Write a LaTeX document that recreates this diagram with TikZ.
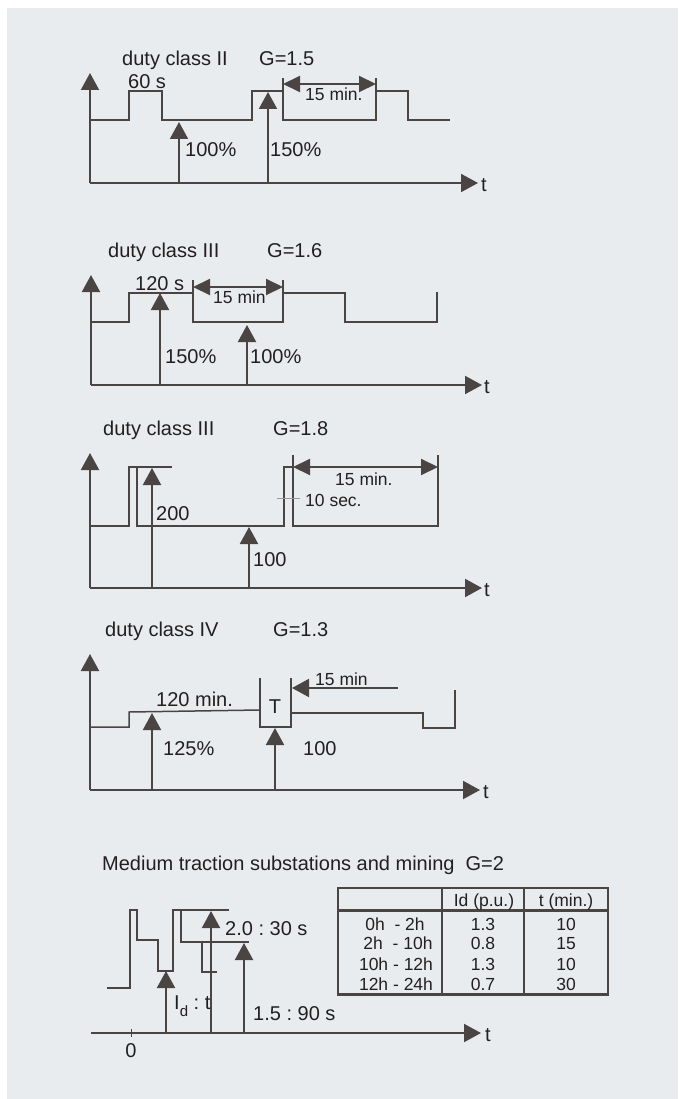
\documentclass[tikz,border=0pt]{standalone}
\usepackage{fontspec}
\setmainfont{Liberation Sans}
\usetikzlibrary{arrows.meta}
\frenchspacing
\definecolor{bg}{HTML}{E8ECEF}
\definecolor{ln}{HTML}{4A4443}
\definecolor{tx}{HTML}{231F20}
\definecolor{tk}{HTML}{9A9A9A}
\tikzset{
  wave/.style={draw=ln, line width=1.5pt, line join=miter},
  axis/.style={draw=ln, line width=2pt, -{Triangle[width=18pt,length=17pt]}},
  uparr/.style={draw=ln, line width=2pt, -{Triangle[width=18pt,length=17pt]}},
  dbl/.style={draw=ln, line width=2pt, {Triangle[width=16pt,length=17pt]}-{Triangle[width=16pt,length=17pt]}},
  lbl/.style={anchor=base west, inner sep=0pt, text=tx, font=\fontsize{20}{24}\selectfont},
  slbl/.style={anchor=base west, inner sep=0pt, text=tx, font=\fontsize{17.5}{20}\selectfont},
  tlbl/.style={anchor=base, inner sep=0pt, text=tx, font=\fontsize{17.5}{20}\selectfont},
  tbl/.style={draw=ln, line width=2pt},
}
\begin{document}
\begin{tikzpicture}[x=1pt,y=-1pt]
\useasboundingbox (0,0) rectangle (678,1099);
\fill[white] (0,0) rectangle (678,1099);
\fill[bg] (7,8) rectangle (678,1099);

% ---------------- Panel 1 ----------------
\node[lbl] (t1) at (122,66) {duty class II};
\node[lbl] (g1) at (259,66) {G=1.5};
\coordinate (o1) at (90,183);
\draw[axis] (o1) -- (90,73);
\draw[axis] (o1) -- (478,183);
\node[lbl] (x1) at (481,192) {t};
\draw[wave] (90,120) -- (129,120) -- (129,91) -- (162,91) -- (162,120) -- (252,120) -- (252,91) -- (283,91) -- (283,120) -- (376,120) -- (376,91) -- (408,91) -- (408,120) -- (450,120);
\draw[wave] (283,78) -- (283,91);
\draw[wave] (376,78) -- (376,91);
\draw[dbl] (283,84) -- (376,84);
\node[lbl] (d1) at (128,89) {60 s};
\node[slbl] (m1) at (305,101) {15 min.};
\draw[uparr] (179,183) -- (179,122);
\draw[uparr] (268,183) -- (268,92);
\node[lbl] (p1a) at (185,157) {100\%};
\node[lbl] (p1b) at (270,157) {150\%};

% ---------------- Panel 2 ----------------
\node[lbl] (t2) at (108,257) {duty class III};
\node[lbl] (g2) at (267,257) {G=1.6};
\coordinate (o2) at (91,385);
\draw[axis] (o2) -- (91,275);
\draw[axis] (o2) -- (482,385);
\node[lbl] (x2) at (484,393) {t};
\draw[wave] (91,322) -- (129,322) -- (129,293) -- (193,293) -- (193,322) -- (283,322) -- (283,293) -- (345,293) -- (345,322) -- (437,322) -- (437,292);
\draw[wave] (193,280) -- (193,293);
\draw[wave] (283,280) -- (283,293);
\draw[dbl] (193,287) -- (283,287);
\node[lbl] (d2) at (135,290) {120 s};
\node[slbl] (m2) at (213,303) {15 min};
\draw[uparr] (160,385) -- (160,293);
\draw[uparr] (247,385) -- (247,325);
\node[lbl] (p2a) at (165,363) {150\%};
\node[lbl] (p2b) at (250,363) {100\%};

% ---------------- Panel 3 ----------------
\node[lbl] (t3) at (103,435) {duty class III};
\node[lbl] (g3) at (273,435) {G=1.8};
\coordinate (o3) at (90,588);
\draw[axis] (o3) -- (90,453);
\draw[axis] (o3) -- (482,588);
\node[lbl] (x3) at (484,596) {t};
\draw[wave] (90,526) -- (129,526) -- (129,467) -- (172,467);
\draw[wave] (137,467) -- (137,526) -- (284,526) -- (284,467) -- (293,467);
\draw[wave] (293,455) -- (293,526) -- (438,526) -- (438,455);
\draw[dbl] (293,467) -- (438,467);
\node[slbl] (m3) at (335,485) {15 min.};
\draw[tk, line width=1pt] (277,498) -- (300,498);
\node[slbl] (s3) at (305,506) {10 sec.};
\draw[uparr] (152,588) -- (152,468);
\draw[uparr] (249,588) -- (249,527);
\node[lbl] (p3a) at (156,520) {200};
\node[lbl] (p3b) at (253,566) {100};

% ---------------- Panel 4 ----------------
\node[lbl] (t4) at (105,636) {duty class IV};
\node[lbl] (g4) at (273,636) {G=1.3};
\coordinate (o4) at (90,790);
\draw[axis] (o4) -- (90,654);
\draw[axis] (o4) -- (480,790);
\node[lbl] (x4) at (483,798) {t};
\draw[wave] (90,727) -- (129,727) -- (129,712) -- (260,710);
\draw[wave] (260,678) -- (260,727) -- (291,727) -- (291,678);
\draw[wave] (291,713) -- (423,713) -- (423,728) -- (455,728) -- (455,690);
\node[inner sep=0pt, text=tx, font=\fontsize{20}{24}\selectfont] (T4) at (275,707) {T};
\node[lbl] (d4) at (156,706) {120 min.};
\coordinate (f4) at (398,688);
\draw[draw=ln, line width=2pt, -{Triangle[width=18pt,length=17pt]}] (f4) -- (292,688);
\node[slbl] (m4) at (315,685) {15 min};
\draw[uparr] (152,790) -- (152,713);
\draw[uparr] (275,790) -- (275,728);
\node[lbl] (p4a) at (163,755) {125\%};
\node[lbl] (p4b) at (303,755) {100};

% ---------------- Panel 5 ----------------
\node[lbl] (t5) at (102,870) {Medium traction substations and mining\ \ G=2};
\coordinate (o5) at (91,1033);
\draw[axis] (o5) -- (481,1033);
\node[lbl] (x5) at (485,1041) {t};
\draw[ln, line width=1pt] (131,1029) -- (131,1037);
\node[anchor=base, inner sep=0pt, text=tx, font=\fontsize{20}{24}\selectfont] (z5) at (131,1057) {0};
\draw[wave] (107,988) -- (130,988) -- (130,910) -- (137,910) -- (137,940) -- (158,940) -- (158,971) -- (173,971) -- (173,910) -- (229,910);
\draw[wave] (181,910) -- (181,942) -- (249,942);
\draw[wave] (202,942) -- (202,972) -- (217,972);
\draw[uparr] (166,1033) -- (166,971);
\draw[uparr] (211,1033) -- (211,911);
\draw[uparr] (244,1033) -- (244,943);
\node[lbl] (l5a) at (174,1009) {I\raisebox{-0.35em}{\fontsize{15}{15}\selectfont d} : t};
\node[lbl] (l5b) at (225,935) {2.0 : 30 s};
\node[lbl] (l5c) at (253,1020) {1.5 : 90 s};

% table
\draw[tbl] (338,888) rectangle (608,995);
\draw[draw=ln, line width=3pt] (338,910) -- (608,910);
\draw[draw=ln, line width=3pt] (338,994) -- (608,994);
\draw[tbl] (442,888) -- (442,995);
\draw[tbl] (524,888) -- (524,995);
\node[tlbl] (h1) at (484,906) {Id (p.u.)};
\node[tlbl] (h2) at (566,906) {t (min.)};
\node[tlbl] (r1a) at (395,930) {0h\ \ - 2h};
\node[tlbl] (r2a) at (398,949) {2h\ \ - 10h};
\node[tlbl] (r3a) at (396,970) {10h - 12h};
\node[tlbl] (r4a) at (396,990) {12h - 24h};
\node[tlbl] (r1b) at (483,930) {1.3};
\node[tlbl] (r2b) at (483,949) {0.8};
\node[tlbl] (r3b) at (483,970) {1.3};
\node[tlbl] (r4b) at (483,990) {0.7};
\node[tlbl] (r1c) at (566,930) {10};
\node[tlbl] (r2c) at (566,949) {15};
\node[tlbl] (r3c) at (566,970) {10};
\node[tlbl] (r4c) at (566,990) {30};
\end{tikzpicture}
\end{document}
